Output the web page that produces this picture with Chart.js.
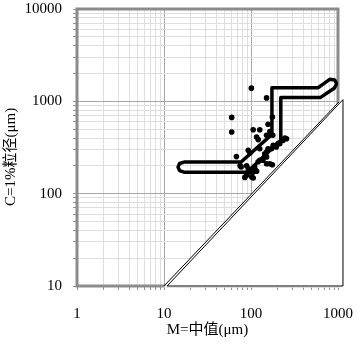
<!DOCTYPE html>
<html>
<head>
<meta charset="utf-8">
<script src="https://cdn.jsdelivr.net/npm/chart.js@4.4.1/dist/chart.umd.min.js"></script>
<style>
  html, body { margin: 0; padding: 0; background: #fff; }
  #wrap { width: 358px; height: 345px; }
</style>
</head>
<body>
<div id="wrap"><canvas id="cmChart" width="358" height="345"></canvas></div>
<script>
// samples: M = median, C = 1% grain size (um)
const sampleM = [101, 151, 60, 60, 176, 157, 106, 126, 116, 121, 151, 178, 165, 245, 256, 234, 214, 205,
  195, 180, 172, 157, 126, 93, 97, 68, 144, 151, 151, 137, 126, 121, 165, 176, 151, 77, 75, 89, 93,
  110, 106, 89, 102, 85, 106, 95, 112, 116];
const sampleC = [1390, 1090, 670, 465, 676, 565, 493, 493, 410, 385, 428, 430, 470, 400, 394, 378, 348, 350,
  320, 334, 307, 307, 307, 295, 275, 252, 271, 283, 250, 230, 230, 222, 211, 206, 211, 195, 200, 200, 186,
  195, 172, 158, 152, 150, 148, 172, 180, 175];

// C-M pattern outline (closed path)
const outlineM = [17, 77, 174, 174, 593, 803, 917, 967, 904, 625, 220, 220, 90, 17, 15.1, 14.5, 15.1, 17];
const outlineC = [220, 220, 439, 1407, 1407, 1730, 1698, 1549, 1384, 1097, 1097, 378, 171, 171, 178, 194, 212, 220];

// C = M limit line and the blank triangle under it
const limitM = [10, 1030];
const limitC = [10, 990];
const triangleM = [10.85, 1141, 1141];
const triangleC = [10, 1043, 10];

const xDecades = [1, 10, 100];
const yDecades = [10, 100, 1000];

function gridValues(decades) {
  const vals = [];
  decades.forEach(d => {
    for (let k = 1; k < 10; k++) vals.push(d * k);
  });
  vals.push(decades[decades.length - 1] * 10);
  return vals;
}
const xTickValues = gridValues(xDecades);
const yTickValues = gridValues(yDecades);

function isPow10(v) {
  const l = Math.log10(v);
  return Math.abs(l - Math.round(l)) < 1e-9;
}

// fixed axis sizes, and no label padding eating into the plot area
function fixSize(prop, size) {
  return s => {
    s[prop] = size;
    s.paddingTop = s.paddingBottom = s.paddingLeft = s.paddingRight = 0;
  };
}

const serif = "'Liberation Serif', 'Noto Sans CJK SC', serif";

const frameAndTriangle = {
  id: 'frameAndTriangle',
  beforeDatasetsDraw(chart) {
    const { ctx, chartArea: a, scales: { x, y } } = chart;
    ctx.save();
    ctx.strokeStyle = '#8c8c8c';
    ctx.lineWidth = 3;
    ctx.strokeRect(a.left, a.top, a.right - a.left, a.bottom - a.top);

    ctx.beginPath();
    triangleM.forEach((m, i) => {
      const px = x.getPixelForValue(m);
      const py = y.getPixelForValue(triangleC[i]);
      if (i === 0) ctx.moveTo(px, py); else ctx.lineTo(px, py);
    });
    ctx.closePath();
    ctx.fillStyle = '#fff';
    ctx.fill();
    ctx.strokeStyle = '#fff';
    ctx.lineWidth = 3;
    ctx.stroke();
    ctx.strokeStyle = '#000';
    ctx.lineWidth = 1;
    ctx.stroke();
    ctx.restore();
  }
};

const gridColor = ctx => (ctx.tick && isPow10(ctx.tick.value)) ? '#a8a8a8' : '#dedede';

new Chart(document.getElementById('cmChart'), {
  type: 'scatter',
  data: {
    datasets: [
      {
        data: sampleM.map((m, i) => ({ x: m, y: sampleC[i] })),
        pointRadius: 2.8,
        pointBackgroundColor: '#000',
        pointBorderWidth: 0
      },
      {
        data: outlineM.map((m, i) => ({ x: m, y: outlineC[i] })),
        showLine: true,
        borderColor: '#000',
        borderWidth: 3.5,
        borderJoinStyle: 'round',
        borderCapStyle: 'round',
        pointRadius: 0,
        tension: 0
      },
      {
        data: limitM.map((m, i) => ({ x: m, y: limitC[i] })),
        showLine: true,
        borderColor: '#000',
        borderWidth: 1,
        pointRadius: 0,
        clip: false
      }
    ]
  },
  options: {
    responsive: false,
    animation: false,
    devicePixelRatio: 1,
    layout: { autoPadding: false, padding: { left: 0, top: 9, right: 20, bottom: 0 } },
    plugins: { legend: { display: false }, tooltip: { enabled: false } },
    scales: {
      x: {
        type: 'logarithmic',
        min: 1,
        max: 1000,
        afterBuildTicks: s => { s.ticks = xTickValues.map(v => ({ value: v })); },
        afterFit: fixSize('height', 59),
        grid: { color: gridColor, tickColor: '#909090', tickLength: 4 },
        border: { display: false },
        ticks: {
          autoSkip: false,
          maxRotation: 0,
          padding: 15,
          color: '#000',
          font: { family: serif, size: 15 },
          callback: v => isPow10(v) ? String(v) : ''
        },
        title: {
          display: true,
          text: 'M=中值(μm)',
          color: '#000',
          font: { family: serif, size: 15 },
          padding: { top: 0, bottom: 6 }
        }
      },
      y: {
        type: 'logarithmic',
        min: 10,
        max: 10000,
        afterBuildTicks: s => { s.ticks = yTickValues.map(v => ({ value: v })); },
        afterFit: fixSize('width', 77),
        grid: { color: gridColor, tickColor: '#909090', tickLength: 4 },
        border: { display: false },
        ticks: {
          autoSkip: false,
          padding: 11,
          color: '#000',
          font: { family: serif, size: 15 },
          callback: v => isPow10(v) ? String(v) : ''
        },
        title: {
          display: true,
          // trailing spaces nudge the rotated title down to where the original sits
          text: 'C=1%粒径(μm)     ',
          color: '#000',
          font: { family: serif, size: 15 },
          padding: { top: 2, bottom: 0 }
        }
      }
    }
  },
  plugins: [frameAndTriangle]
});
</script>
</body>
</html>
